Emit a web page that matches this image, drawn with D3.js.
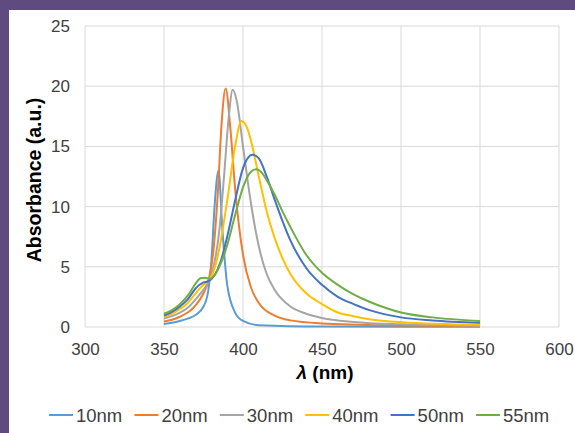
<!DOCTYPE html>
<html>
<head>
<meta charset="utf-8">
<script src="https://d3js.org/d3.v7.min.js"></script>
<style>
  body { margin: 0; background: #5f4b7f; }
  text { font-family: "Liberation Sans", Arial, sans-serif; }
</style>
</head>
<body>
<div id="chart"></div>
<script>
// series names + colours (Excel palette)
var names = ["10nm", "20nm", "30nm", "40nm", "50nm", "55nm"];
var colors = ["#5b9bd5", "#ed7d31", "#a5a5a5", "#ffc000", "#4472c4", "#70ad47"];
var xTicks = [300, 350, 400, 450, 500, 550, 600];
var yTicks = [0, 5, 10, 15, 20, 25];

// [wavelength nm, absorbance]
var s10 = [[350,0.25],[355,0.35],[360,0.5],[365,0.7],[370,1.0],[375,1.7],[378,3.0],[380,5.5],[382,10],[384.5,13],[387,8],[390,3.5],[395,1.2],[400,0.5],[410,0.15],[450,0.04],[550,0.02]];
var s20 = [[350,0.45],[355,0.6],[360,0.85],[365,1.2],[370,1.8],[375,2.8],[378,3.8],[381,6],[384,11],[386.5,17],[389,19.8],[392,16.5],[395,11.5],[400,6],[405,3.3],[410,2],[420,0.95],[430,0.55],[450,0.3],[500,0.12],[550,0.06]];
var s30 = [[350,0.7],[355,0.9],[360,1.2],[365,1.6],[370,2.3],[375,3.1],[378,3.7],[381,4.8],[385,8],[388,12.5],[391,17.5],[393.5,19.7],[396,18.8],[400,15],[405,10.3],[410,6.7],[415,4.4],[420,3.1],[430,1.7],[440,1.1],[450,0.75],[470,0.42],[500,0.22],[550,0.1]];
var s40 = [[350,0.85],[355,1.1],[360,1.5],[365,2],[370,2.8],[375,3.5],[378,3.8],[381,4.5],[385,6.5],[390,10.5],[395,15],[399,17.1],[403,16.4],[405,15.5],[410,12.5],[415,9.6],[420,7.4],[425,5.7],[430,4.4],[440,2.8],[450,1.9],[460,1.2],[470,0.9],[480,0.65],[500,0.4],[550,0.18]];
var s50 = [[350,0.95],[355,1.25],[360,1.7],[365,2.3],[370,3.2],[375,3.7],[378,3.8],[382,4.3],[386,5.5],[390,7.5],[395,10.5],[400,13.2],[406,14.3],[410,14],[415,12.5],[420,10.6],[425,8.8],[430,7.2],[440,4.9],[450,3.5],[460,2.5],[470,1.9],[480,1.4],[490,1.05],[500,0.8],[520,0.55],[550,0.35]];
var s55 = [[350,1.1],[355,1.4],[360,1.9],[365,2.6],[370,3.6],[373,4.05],[376,4.1],[379,4],[382,4.3],[386,5.3],[390,6.8],[395,9.3],[400,11.6],[405,12.9],[408.5,13.1],[412,12.8],[415,12.2],[420,11],[425,9.6],[430,8.3],[440,6],[450,4.5],[460,3.5],[470,2.7],[480,2.1],[490,1.6],[500,1.2],[520,0.8],[550,0.5]];
var series = [s10, s20, s30, s40, s50, s55];

var W = 575, H = 433;
var margin = {top: 26, right: 16, bottom: 106, left: 85},
    width = W - margin.left - margin.right,
    height = H - margin.top - margin.bottom;

var svg = d3.select("#chart")
  .append("svg")
    .attr("width", W)
    .attr("height", H);

// white panel inside the purple frame
svg.append("rect")
    .attr("x", 9).attr("y", 10)
    .attr("width", W - 9).attr("height", H - 10)
    .attr("fill", "#fff");

var g = svg.append("g")
    .attr("transform", "translate(" + margin.left + "," + margin.top + ")");

var x = d3.scaleLinear().domain([300, 600]).range([0, width]);
var y = d3.scaleLinear().domain([0, 25]).range([height, 0]);

// gridlines
g.append("g")
  .selectAll("line.h")
  .data(yTicks)
  .enter().append("line")
    .attr("x1", 0).attr("x2", width)
    .attr("y1", function(d) { return y(d); })
    .attr("y2", function(d) { return y(d); })
    .attr("stroke", "#d9d9d9")
    .attr("stroke-width", 1);

g.append("g")
  .selectAll("line.v")
  .data(xTicks)
  .enter().append("line")
    .attr("y1", 0).attr("y2", height)
    .attr("x1", function(d) { return x(d); })
    .attr("x2", function(d) { return x(d); })
    .attr("stroke", "#d9d9d9")
    .attr("stroke-width", 1);

// axes (labels only)
var xAxis = g.append("g")
    .attr("transform", "translate(0," + height + ")")
    .call(d3.axisBottom(x).tickValues(xTicks).tickSize(0).tickPadding(16));
var yAxis = g.append("g")
    .call(d3.axisLeft(y).tickValues(yTicks).tickSize(0).tickPadding(15));
[xAxis, yAxis].forEach(function(a) {
  a.select(".domain").remove();
  a.selectAll("text")
    .attr("fill", "#404040")
    .style("font-size", "17px")
    .style("font-family", "'Liberation Sans', Arial, sans-serif");
});

// curves
var line = d3.line()
    .x(function(d) { return x(d[0]); })
    .y(function(d) { return y(d[1]); })
    .curve(d3.curveMonotoneX);

series.forEach(function(s, i) {
  g.append("path")
    .datum(s)
    .attr("fill", "none")
    .attr("stroke", colors[i])
    .attr("stroke-width", 2)
    .attr("stroke-linejoin", "round")
    .attr("d", line);
});

// axis titles
var xt = svg.append("text")
    .attr("x", 325)
    .attr("y", 379)
    .attr("text-anchor", "middle")
    .attr("fill", "#000")
    .style("font-size", "19px")
    .style("font-weight", "bold");
xt.append("tspan").style("font-style", "italic").text("λ");
xt.append("tspan").text(" (nm)");

svg.append("text")
    .attr("transform", "translate(41,180) rotate(-90)")
    .attr("text-anchor", "middle")
    .attr("fill", "#000")
    .style("font-size", "19.5px")
    .style("font-weight", "bold")
    .text("Absorbance (a.u.)");

// legend
var legend = svg.append("g").attr("transform", "translate(49,415)");
names.forEach(function(n, i) {
  var item = legend.append("g").attr("transform", "translate(" + (i * 85.4) + ",0)");
  item.append("line")
    .attr("x1", 0).attr("x2", 24)
    .attr("y1", 0).attr("y2", 0)
    .attr("stroke", colors[i])
    .attr("stroke-width", 2);
  item.append("text")
    .attr("x", 27).attr("y", 6.5)
    .attr("fill", "#404040")
    .style("font-size", "18.5px")
    .text(n);
});
</script>
</body>
</html>
